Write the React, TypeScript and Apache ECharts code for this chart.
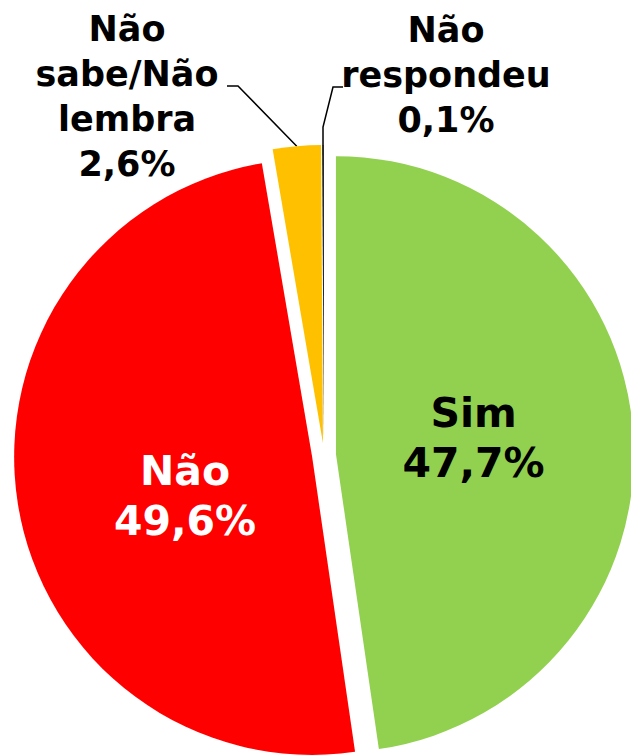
import React, { useEffect, useRef } from 'react';
import * as echarts from 'echarts';

const categories = ['Sim', 'Não', 'Não sabe/Não lembra', 'Não respondeu'];
const labelNames = ['Sim', 'Não', 'Não\nsabe/Não\nlembra', 'Não\nrespondeu'];
const values = [47.7, 49.6, 2.6, 0.1];
const colors = ['#92D050', '#FF0000', '#FFC000', '#1a1a1a'];
const labelColors = ['#000000', '#FFFFFF', '#000000', '#000000'];

const fmt = (v: number) => v.toFixed(1).replace('.', ',') + '%';

const CX = 324;
const CY = 455;
const R = 298;
const EXPLODE = 12;

export default function App() {
  const ref = useRef<HTMLDivElement>(null);
  useEffect(() => {
    document.body.style.margin = '0';
    const chart = echarts.init(ref.current!, null, { renderer: 'svg' });
    const font = 'DejaVu Sans';
    const total = values.reduce((a, b) => a + b, 0);
    let cum = 0;
    const series = values.map((v, i) => {
      const mid = ((cum + v / 2) / total) * Math.PI * 2;
      cum += v;
      const center = [CX + EXPLODE * Math.sin(mid), CY - EXPLODE * Math.cos(mid)];
      const inside = i < 2;
      const data = values.map((w, j) => ({
        name: categories[j],
        value: w,
        itemStyle: { color: j === i ? colors[j] : 'rgba(0,0,0,0)', borderWidth: 0 },
        label: {
          show: j === i,
          position: inside ? 'inside' : 'outside',
          formatter: () => labelNames[j] + '\n' + fmt(w),
          color: labelColors[j],
          fontFamily: font,
          fontWeight: 'bold',
          fontSize: inside ? 41 : 35,
          lineHeight: inside ? 50 : 45,
          align: 'center',
        },
        labelLine: {
          show: j === i && !inside,
          lineStyle: { color: '#000000', width: 1.5 },
        },
      }));
      return {
        type: 'pie',
        center,
        radius: R,
        startAngle: 90,
        clockwise: true,
        silent: true,
        avoidLabelOverlap: false,
        emphasis: { disabled: true },
        data,
        labelLayout: (p: any) => {
          if (p.dataIndex !== i) return {};
          const pts = p.labelLinePoints || [[0, 0]];
          if (i === 0) return { dx: -14, dy: -5 };
          if (i === 1) return { dx: 23, dy: 15 };
          if (i === 2)
            return {
              x: 127,
              y: 96,
              align: 'center',
              verticalAlign: 'middle',
              labelLinePoints: [pts[0], [238, 86], [227, 86]],
            };
          return {
            x: 446,
            y: 75,
            align: 'center',
            verticalAlign: 'middle',
            labelLinePoints: [pts[0], [323, 127], [333, 87], [343, 87]],
          };
        },
      };
    });
    chart.setOption({
      animation: false,
      backgroundColor: '#ffffff',
      series,
    });
    return () => chart.dispose();
  }, []);
  return <div ref={ref} style={{ width: 631, height: 755 }} />;
}
